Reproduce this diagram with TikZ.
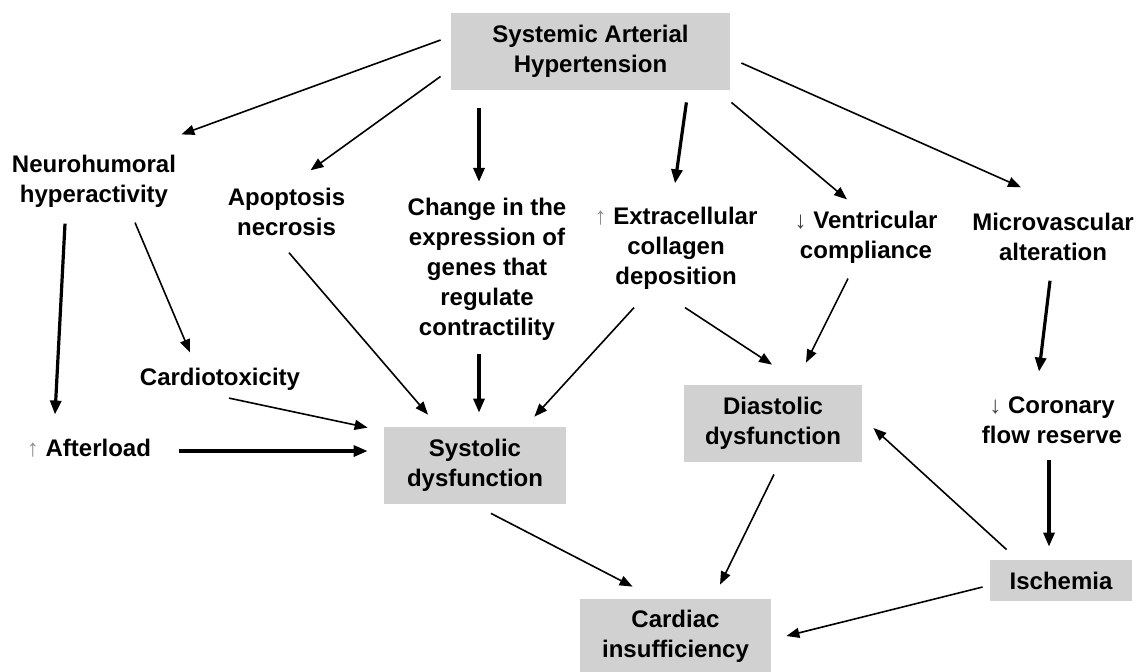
\documentclass[tikz,border=0pt]{standalone}
\usepackage{fontspec}
\setmainfont{Liberation Sans}
\usepackage{tikz}
\usetikzlibrary{arrows.meta}

\newcommand{\incarrow}{{\mdseries\color{black!45}\char"2191}}
\newcommand{\decarrow}{{\mdseries\color{black!75}\char"2193}}

\begin{document}
\begin{tikzpicture}[x=0.5pt,y=-0.5pt,
    txt/.style={inner sep=0pt,align=center,font=\fontsize{12}{15}\selectfont\bfseries},
    box/.style={txt,fill=black!18},
    thinarr/.style={-{Triangle[length=6.5pt,width=5pt]},line width=0.8pt},
    thickarr/.style={-{Triangle[length=7pt,width=5.5pt]},line width=1.6pt}]
      \useasboundingbox (0,0) rectangle (1138,671);

      \node[box,minimum width=139.5pt,minimum height=38.5pt] (sah) at (590.5,51.5) {Systemic Arterial\\Hypertension};
      \node[txt] (neuro) at (94,181) {Neurohumoral\\hyperactivity};
      \node[txt] (apop) at (286.5,211.5) {Apoptosis\\necrosis};
      \node[txt] (gene) at (487,269.5) {Change in the\\expression of\\genes that\\regulate\\contractility};
      \node[txt] (ecm) at (676,248) {\incarrow{} Extracellular\\collagen\\deposition};
      \node[txt] (vent) at (866,237) {\decarrow{} Ventricular\\compliance};
      \node[txt] (micro) at (1053,236.5) {Microvascular\\alteration};
      \node[txt] (cardtox) at (220,379) {Cardiotoxicity};
      \node[txt] (afterload) at (89,448) {\incarrow{} Afterload};
      \node[txt] (coronary) at (1052,420.5) {\decarrow{} Coronary\\flow reserve};
      \node[box,minimum width=91pt,minimum height=38.5pt] (sys) at (475,465.5) {Systolic\\dysfunction};
      \node[box,minimum width=89pt,minimum height=38.5pt] (dia) at (773,423.5) {Diastolic\\dysfunction};
      \node[box,minimum width=71pt,minimum height=20.5pt] (isch) at (1061,580.5) {Ischemia};
      \node[box,minimum width=95.5pt,minimum height=37pt] (card) at (675.5,636) {Cardiac\\insufficiency};

      \draw[thinarr] ([shift={(-10,-11.5)}]sah.west) -- ([shift={(5,-20)}]neuro.north east);
      \draw[thinarr] ([shift={(-10,-14)}]sah.south west) -- ([shift={(24,-17)}]apop.north);
      \draw[thickarr] ([shift={(-111.5,18)}]sah.south) -- ([shift={(-8,-16)}]gene.north);
      \draw[thickarr] ([shift={(-44,12)}]sah.south east) -- ([shift={(-1,-23)}]ecm.north);
      \draw[thinarr] ([shift={(1,12)}]sah.south east) -- ([shift={(-19,-11)}]vent.north);
      \draw[thinarr] ([shift={(11,11.5)}]sah.east) -- ([shift={(-32,-25)}]micro.north);

      \draw[thickarr] ([shift={(-29,16)}]neuro.south) -- ([shift={(-34,-24)}]afterload.north);
      \draw[thinarr] ([shift={(41,15)}]neuro.south) -- ([shift={(-30,-15)}]cardtox.north);
      \draw[thinarr] ([shift={(2.5,17)}]apop.south) -- ([shift={(-47,-12)}]sys.north);
      \draw[thickarr] ([shift={(-8,13)}]gene.south) -- ([shift={(4,-14)}]sys.north);
      \draw[thinarr] ([shift={(-42,18)}]ecm.south) -- ([shift={(-32,-10)}]sys.north east);
      \draw[thinarr] ([shift={(9,18)}]ecm.south) -- ([shift={(-1,-20)}]dia.north);
      \draw[thinarr] ([shift={(-18,15)}]vent.south) -- ([shift={(33,-22)}]dia.north);
      \draw[thickarr] ([shift={(-3,20)}]micro.south) -- ([shift={(-13,-25)}]coronary.north);

      \draw[thinarr] ([shift={(9,7.5)}]cardtox.south) -- ([shift={(-16,1)}]sys.north west);
      \draw[thickarr] ([shift={(28,3)}]afterload.east) -- ([shift={(-16,-14.5)}]sys.west);
      \draw[thickarr] ([shift={(-3,16)}]coronary.south) -- ([shift={(-12,-13)}]isch.north);

      \draw[thinarr] ([shift={(16,9)}]sys.south) -- ([shift={(53,-12)}]card.north west);
      \draw[thinarr] ([shift={(1,12)}]dia.south) -- ([shift={(44.5,-14)}]card.north);
      \draw[thinarr] ([shift={(17,-10)}]isch.north west) -- ([shift={(11,4.5)}]dia.east);
      \draw[thinarr] ([shift={(-7,6.5)}]isch.west) -- ([shift={(15,0)}]card.east);
\end{tikzpicture}
\end{document}
